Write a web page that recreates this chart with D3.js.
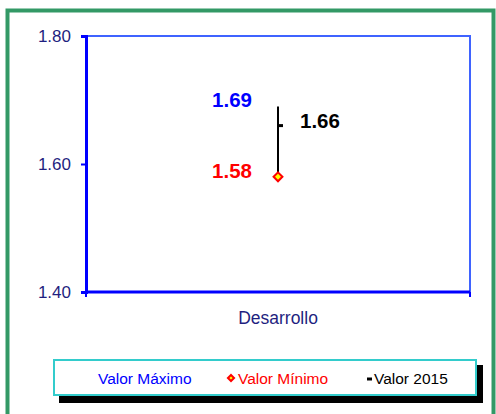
<!DOCTYPE html>
<html lang="en">
<head>
    <meta charset="UTF-8">
    <title>Desarrollo</title>
    <script src="https://d3js.org/d3.v7.min.js"></script>
    <style>
        body { margin: 0; background: #fff; }
        text { font-family: "Liberation Sans", Arial, sans-serif; }
    </style>
</head>
<body>
    <div id="chart"></div>
    <script>
        // chart data
        const categories = ['Desarrollo'];
        const maxValues = [1.69];
        const minValues = [1.58];
        const values2015 = [1.66];
        const yTicks = [1.40, 1.60, 1.80];
        const legendLabels = ['Valor Máximo', 'Valor Mínimo', 'Valor 2015'];

        const width = 496, height = 414;
        const svg = d3.select('#chart')
            .append('svg')
            .attr('width', width)
            .attr('height', height);

        // outer green frame
        svg.append('rect')
            .attr('x', 7.5)
            .attr('y', 10.5)
            .attr('width', 486)
            .attr('height', 420)
            .attr('fill', 'none')
            .attr('stroke', '#339966')
            .attr('stroke-width', 4);

        const plot = { left: 86, top: 36, right: 470, bottom: 292 };

        const x = d3.scaleBand()
            .domain(categories)
            .range([plot.left, plot.right]);

        const y = d3.scaleLinear()
            .domain([1.40, 1.80])
            .range([plot.bottom, plot.top]);

        // top and right border (lighter blue)
        svg.append('path')
            .attr('d', `M${plot.left},${plot.top}H${plot.right}V${plot.bottom}`)
            .attr('fill', 'none')
            .attr('stroke', '#3F63FF')
            .attr('stroke-width', 2);

        // y axis
        const yAxis = svg.append('g')
            .attr('transform', `translate(${plot.left},0)`)
            .call(d3.axisLeft(y).tickValues(yTicks).tickFormat(d3.format('.2f')).tickSize(5).tickPadding(10));
        yAxis.select('.domain').attr('stroke', '#0000FF').attr('stroke-width', 3);
        yAxis.selectAll('.tick line').attr('stroke', '#0000FF').attr('stroke-width', 2);
        yAxis.selectAll('.tick text')
            .attr('fill', '#1F1F80')
            .attr('font-size', '17px')
            .style('font-family', '"Liberation Sans", Arial, sans-serif');

        // x axis
        const xAxis = svg.append('g')
            .attr('transform', `translate(0,${plot.bottom})`)
            .call(d3.axisBottom(x).tickSize(0).tickPadding(16));
        xAxis.select('.domain').remove();
        xAxis.append('line')
            .attr('x1', plot.left).attr('x2', plot.right)
            .attr('stroke', '#0000FF').attr('stroke-width', 3);
        xAxis.selectAll('.edge')
            .data([plot.left, plot.right])
            .enter()
            .append('line')
            .attr('class', 'edge')
            .attr('x1', d => d).attr('x2', d => d)
            .attr('y1', 0).attr('y2', 5)
            .attr('stroke', '#0000FF').attr('stroke-width', 2);
        xAxis.selectAll('.tick text')
            .attr('fill', '#1F1F80')
            .attr('font-size', '17.5px')
            .attr('dy', '0.9em')
            .style('font-family', '"Liberation Sans", Arial, sans-serif');

        const cx = d => x(d) + x.bandwidth() / 2;

        // high-low line
        svg.selectAll('.hl')
            .data(categories)
            .enter()
            .append('line')
            .attr('x1', d => cx(d)).attr('x2', d => cx(d))
            .attr('y1', (d, i) => y(maxValues[i]))
            .attr('y2', (d, i) => y(minValues[i]))
            .attr('stroke', '#000')
            .attr('stroke-width', 2);

        // 2015 value tick
        svg.selectAll('.v2015')
            .data(categories)
            .enter()
            .append('line')
            .attr('x1', d => cx(d)).attr('x2', d => cx(d) + 5)
            .attr('y1', (d, i) => y(values2015[i]))
            .attr('y2', (d, i) => y(values2015[i]))
            .attr('stroke', '#000')
            .attr('stroke-width', 3);

        // min diamond
        const diamond = d3.symbol().type(d3.symbolDiamond2).size(50);
        svg.selectAll('.minpt')
            .data(categories)
            .enter()
            .append('path')
            .attr('d', diamond)
            .attr('transform', (d, i) => `translate(${cx(d)},${y(minValues[i])})`)
            .attr('fill', '#FFFF00')
            .attr('stroke', '#FF0000')
            .attr('stroke-width', 2);

        // value labels
        categories.forEach((c, i) => {
            svg.append('text')
                .attr('x', cx(c) - 26)
                .attr('y', y(maxValues[i]) + 1)
                .attr('text-anchor', 'end')
                .attr('font-size', '20.5px')
                .attr('font-weight', 'bold')
                .attr('fill', '#0000FF')
                .text(maxValues[i].toFixed(2));
            svg.append('text')
                .attr('x', cx(c) - 26)
                .attr('y', y(minValues[i]) + 1)
                .attr('text-anchor', 'end')
                .attr('font-size', '20.5px')
                .attr('font-weight', 'bold')
                .attr('fill', '#FF0000')
                .text(minValues[i].toFixed(2));
            svg.append('text')
                .attr('x', cx(c) + 22)
                .attr('y', y(values2015[i]) + 2)
                .attr('font-size', '20.5px')
                .attr('font-weight', 'bold')
                .attr('fill', '#000')
                .text(values2015[i].toFixed(2));
        });

        // legend
        const legend = svg.append('g');
        legend.append('rect')
            .attr('x', 59).attr('y', 365)
            .attr('width', 424).attr('height', 38)
            .attr('fill', '#000');
        legend.append('rect')
            .attr('x', 54).attr('y', 360)
            .attr('width', 422).attr('height', 35)
            .attr('fill', '#fff')
            .attr('stroke', '#33CCCC')
            .attr('stroke-width', 2);

        const legendColors = ['#0000FF', '#FF0000', '#000'];
        const legendX = [98, 238, 374];
        legend.selectAll('.lt')
            .data(legendLabels)
            .enter()
            .append('text')
            .attr('x', (d, i) => legendX[i])
            .attr('y', 384)
            .attr('font-size', '15.5px')
            .attr('fill', (d, i) => legendColors[i])
            .text(d => d);

        legend.append('path')
            .attr('d', d3.symbol().type(d3.symbolDiamond2).size(24))
            .attr('transform', 'translate(231,378)')
            .attr('fill', '#FFFF00')
            .attr('stroke', '#FF0000')
            .attr('stroke-width', 2);
        legend.append('line')
            .attr('x1', 367).attr('x2', 372)
            .attr('y1', 379).attr('y2', 379)
            .attr('stroke', '#000')
            .attr('stroke-width', 3);
    </script>
</body>
</html>
